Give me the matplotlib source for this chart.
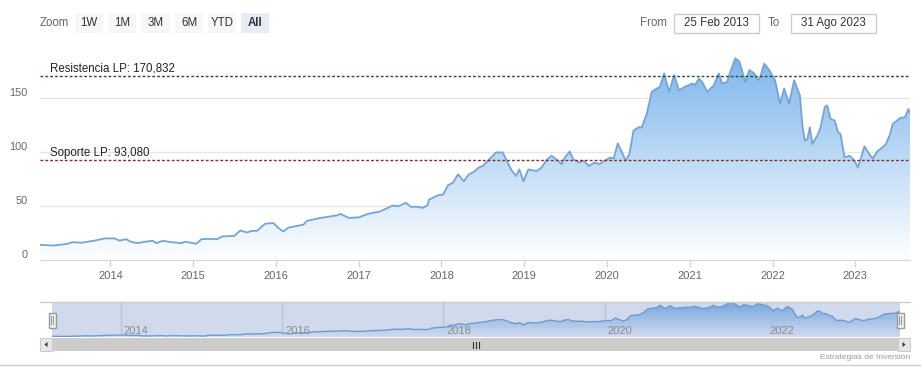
import numpy as np
import matplotlib
matplotlib.use('Agg')
import matplotlib.pyplot as plt
from matplotlib.colors import LinearSegmentedColormap
from matplotlib.patches import Rectangle, Polygon

plt.rcParams['font.family'] = ['Liberation Sans', 'DejaVu Sans']

# datos (fecha en años decimales, precio)
fechas = [2013.15, 2013.32, 2013.48, 2013.54, 2013.65, 2013.81, 2013.93, 2014.05, 2014.11, 2014.19,
          2014.25, 2014.33, 2014.41, 2014.51, 2014.56, 2014.63, 2014.74, 2014.86, 2014.90, 2014.96,
          2015.04, 2015.10, 2015.18, 2015.29, 2015.35, 2015.50, 2015.57, 2015.65, 2015.71, 2015.77,
          2015.87, 2015.97, 2016.03, 2016.09, 2016.15, 2016.33, 2016.38, 2016.54, 2016.74, 2016.78,
          2016.88, 2017.00, 2017.11, 2017.26, 2017.41, 2017.48, 2017.57, 2017.63, 2017.71, 2017.77,
          2017.83, 2017.85, 2017.96, 2018.02, 2018.08, 2018.14, 2018.20, 2018.27, 2018.33, 2018.39,
          2018.45, 2018.50, 2018.56, 2018.66, 2018.74, 2018.78, 2018.84, 2018.90, 2018.94, 2018.99,
          2019.05, 2019.15, 2019.21, 2019.27, 2019.33, 2019.41, 2019.45, 2019.49, 2019.55, 2019.59,
          2019.66, 2019.72, 2019.78, 2019.85, 2019.91, 2019.97, 2020.04, 2020.08, 2020.13, 2020.20,
          2020.22, 2020.27, 2020.32, 2020.38, 2020.42, 2020.48, 2020.54, 2020.60, 2020.64, 2020.69,
          2020.75, 2020.81, 2020.87, 2020.94, 2021.03, 2021.06, 2021.11, 2021.15, 2021.21, 2021.29,
          2021.35, 2021.39, 2021.45, 2021.49, 2021.55, 2021.60, 2021.67, 2021.72, 2021.78, 2021.82,
          2021.85, 2021.90, 2021.96, 2022.03, 2022.09, 2022.14, 2022.20, 2022.26, 2022.33, 2022.36,
          2022.39, 2022.42, 2022.45, 2022.48, 2022.54, 2022.58, 2022.63, 2022.66, 2022.70, 2022.75,
          2022.79, 2022.82, 2022.87, 2022.93, 2022.99, 2023.03, 2023.07, 2023.11, 2023.17, 2023.21,
          2023.27, 2023.33, 2023.37, 2023.42, 2023.45, 2023.54, 2023.60, 2023.64, 2023.66]
precio = [14.0, 13.4, 15.0, 16.5, 16.0, 18.0, 20.0, 20.0, 18.0, 19.3,
          16.8, 15.6, 16.8, 17.8, 15.6, 17.8, 16.5, 15.6, 17.0, 16.2,
          15.0, 19.3, 19.6, 19.3, 21.8, 22.4, 27.4, 25.5, 27.0, 27.0,
          33.6, 34.3, 29.6, 26.5, 30.0, 32.7, 36.4, 39.0, 41.4, 42.7,
          39.0, 39.5, 42.7, 45.0, 50.5, 49.8, 53.0, 49.3, 49.3, 48.3,
          50.5, 56.0, 60.0, 60.7, 69.4, 71.7, 79.4, 73.0, 79.4, 81.6,
          85.7, 87.2, 92.0, 99.7, 99.7, 93.5, 84.0, 77.9, 84.0, 73.0,
          84.0, 82.5, 85.7, 92.8, 96.6, 92.0, 88.8, 95.0, 100.6, 93.5,
          90.4, 92.0, 87.2, 90.4, 88.8, 92.0, 95.0, 94.0, 108.0, 96.6,
          92.0, 98.0, 120.0, 123.0, 123.0, 135.5, 155.8, 158.9, 160.5, 172.9,
          155.8, 171.3, 157.3, 160.5, 163.6, 162.0, 168.2, 165.0, 155.8, 162.0,
          172.9, 163.6, 165.0, 174.5, 187.0, 183.8, 165.0, 176.0, 172.9, 166.6,
          169.8, 182.0, 176.0, 166.6, 144.9, 158.9, 144.9, 166.6, 152.6, 124.6,
          110.6, 112.0, 123.0, 107.5, 115.2, 123.0, 141.8, 143.3, 130.8, 129.3,
          118.4, 116.8, 95.0, 96.6, 92.0, 85.7, 95.0, 105.3, 98.0, 94.0,
          101.2, 104.4, 107.5, 116.8, 126.0, 131.5, 132.4, 140.0, 136.5]

resistencia = 170.832
soporte = 93.080
anios = list(range(2014, 2024))
anios_nav = [2014, 2016, 2018, 2020, 2022]
ticks_y = [0, 50, 100, 150]
botones = ['1W', '1M', '3M', '6M', 'YTD', 'All']
desde = '25 Feb 2013'
hasta = '31 Ago 2023'

W, H = 921, 375
fig = plt.figure(figsize=(W / 100, H / 100), dpi=100)


def caja(x0, y0, x1, y1):
    # rectangulo en pixeles -> fraccion de figura
    return [x0 / W, 1 - y1 / H, (x1 - x0) / W, (y1 - y0) / H]


x = np.array(fechas)
y = np.array(precio)
cmap = LinearSegmentedColormap.from_list('azul', ['#ffffff', '#7cb5ec'])


def area(ax, y0, y1, z=1):
    poly = ax.fill_between(x, y, y0, facecolor='none', edgecolor='none')
    grad = np.linspace(0, 1, 256).reshape(-1, 1)
    im = ax.imshow(grad, extent=[x[0], x[-1], y0, y1], origin='lower',
                   aspect='auto', cmap=cmap, zorder=z)
    im.set_clip_path(poly.get_paths()[0], transform=ax.transData)


def fmt(v):
    return f'{v:.3f}'.replace('.', ',')


'''grafico principal'''
ax = fig.add_axes(caja(40, 55, 910, 260))
area(ax, 0, 190)
ax.plot(x, y, color='#74a4d8', lw=1.3, zorder=3)
ax.axhline(resistencia, color='#24502a', lw=1, ls=(0, (2, 1.5)), zorder=4)
ax.axhline(soporte, color='#8b2a2a', lw=1, ls=(0, (2, 1.5)), zorder=4)
ax.annotate('Resistencia LP: ' + fmt(resistencia), xy=(0, resistencia),
            xycoords=('axes fraction', 'data'), xytext=(10, 1), textcoords='offset pixels',
            fontsize=8.3, color='#222222', va='bottom', ha='left', zorder=5)
ax.annotate('Soporte LP: ' + fmt(soporte), xy=(0, soporte),
            xycoords=('axes fraction', 'data'), xytext=(10, 1), textcoords='offset pixels',
            fontsize=8.3, color='#222222', va='bottom', ha='left', zorder=5)

ax.set_xlim(x[0], x[-1])
ax.set_ylim(0, 190)
ax.set_yticks(ticks_y)
ax.set_yticklabels([str(t) for t in ticks_y])
for lbl in ax.get_yticklabels():
    lbl.set_va('bottom')
ax.set_xticks(anios)
ax.set_xticklabels([str(a) for a in anios])
ax.tick_params(axis='y', length=0, pad=9, labelcolor='#666666', labelsize=7.8)
ax.tick_params(axis='x', length=5, width=1, color='#ccd6eb', pad=3,
               labelcolor='#666666', labelsize=8)
ax.grid(axis='y', color='#e6e6e6', lw=1, zorder=0)
ax.set_axisbelow(True)
for s in ['left', 'right', 'top']:
    ax.spines[s].set_visible(False)
ax.spines['bottom'].set_color('#ccd6eb')

'''navegador'''
nav = fig.add_axes(caja(52, 302, 900, 337))
nav.set_facecolor('white')
area(nav, y.min() - 3, y.max() + 3)
nav.plot(x, y, color='#74a4d8', lw=1, zorder=3)
for a in anios_nav:
    nav.axvline(a, color='#e0e0e0', lw=1, zorder=0)
    nav.annotate(str(a), xy=(a, 0), xycoords=('data', 'axes fraction'), xytext=(3, 1),
                 textcoords='offset pixels', fontsize=8, color='#8c8c8c',
                 ha='left', va='bottom', zorder=7)
nav.axvspan(x[0], x[-1], color=(102 / 255, 133 / 255, 194 / 255), alpha=0.3, lw=0, zorder=6)
nav.set_xlim(x[0], x[-1])
nav.set_ylim(y.min() - 3, y.max() + 3)
nav.set_xticks([])
nav.set_yticks([])
for s in nav.spines.values():
    s.set_visible(False)

'''controles (botones, fechas, barra de desplazamiento)'''
ov = fig.add_axes([0, 0, 1, 1], zorder=10)
ov.set_xlim(0, W)
ov.set_ylim(H, 0)
ov.axis('off')
ov.patch.set_alpha(0)

ov.text(40, 22.5, 'Zoom', fontsize=8.3, color='#666666', ha='left', va='center')
bx = [75, 108, 142, 175, 208, 241]
for b, x0 in zip(botones, bx):
    sel = b == 'All'
    ov.add_patch(Rectangle((x0, 13), 28, 20, fc='#e6ebf5' if sel else '#f7f7f7', ec='none'))
    ov.text(x0 + 14, 23, b, fontsize=8.3, color='#333333', ha='center', va='center',
            fontweight='bold' if sel else 'normal')

ov.text(640, 22.5, 'From', fontsize=8.3, color='#666666', ha='left', va='center')
ov.add_patch(Rectangle((673.5, 13.5), 85, 19, fc='white', ec='#cccccc', lw=1))
ov.text(716, 23, desde, fontsize=8.3, color='#333333', ha='center', va='center')
ov.text(768, 22.5, 'To', fontsize=8.3, color='#666666', ha='left', va='center')
ov.add_patch(Rectangle((790.5, 13.5), 85, 19, fc='white', ec='#cccccc', lw=1))
ov.text(833, 23, hasta, fontsize=8.3, color='#333333', ha='center', va='center')

# contorno del navegador y asas
ov.plot([40, 910], [302, 302], color='#cccccc', lw=1)
for hx in [52, 900]:
    ov.add_patch(Rectangle((hx - 3.5, 312.5), 7, 15, fc='#f2f2f2', ec='#999999', lw=1))
    ov.plot([hx - 1, hx - 1], [316, 324], color='#999999', lw=0.8)
    ov.plot([hx + 1, hx + 1], [316, 324], color='#999999', lw=0.8)

# barra de desplazamiento
ov.add_patch(Rectangle((40, 338), 870, 13, fc='#f2f2f2', ec='none'))
ov.add_patch(Rectangle((52, 338), 846, 13, fc='#cccccc', ec='none'))
ov.add_patch(Rectangle((40, 338), 12, 13, fc='#e6e6e6', ec='#cccccc', lw=0.8))
ov.add_patch(Rectangle((898, 338), 12, 13, fc='#e6e6e6', ec='#cccccc', lw=0.8))
ov.add_patch(Polygon([(44.5, 344.5), (47.5, 342), (47.5, 347)], closed=True, fc='#333333', ec='none'))
ov.add_patch(Polygon([(905.5, 344.5), (902.5, 342), (902.5, 347)], closed=True, fc='#333333', ec='none'))
for gx in [472.5, 475.5, 478.5]:
    ov.plot([gx, gx], [341.5, 347.5], color='#333333', lw=0.8)

ov.text(910, 357.5, 'Estrategias de Inversión', fontsize=6, color='#999999', ha='right', va='center')
ov.plot([0, W], [364.5, 364.5], color='#cccccc', lw=1)

plt.savefig('out.png', dpi=100)
